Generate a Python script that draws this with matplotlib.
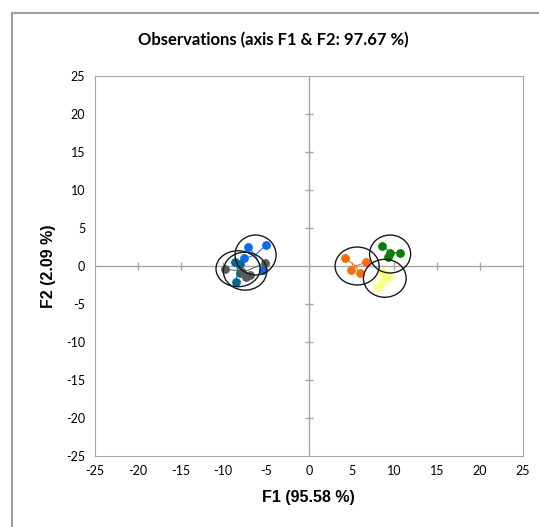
import matplotlib
matplotlib.use("Agg")
import matplotlib.pyplot as plt
from matplotlib.patches import Ellipse, Rectangle
import numpy as np

plt.rcParams["axes.unicode_minus"] = False

# Observation groups (F1, F2)
groups = ["blue", "teal", "gray", "orange", "green", "yellow"]
colors = {"blue": "#0a6cf0", "teal": "#006a94", "gray": "#5a5a5a",
          "orange": "#ff6a0a", "green": "#0a800a", "yellow": "#ffff80"}
f1 = {
    "blue":   [-7.15, -5.0, -7.55, -5.4],
    "teal":   [-8.63, -8.1, -8.05, -8.52],
    "gray":   [-9.8, -7.85, -6.9, -5.13, -7.4],
    "orange": [4.23, 6.69, 4.94, 5.99],
    "green":  [8.53, 9.5, 9.3, 10.67],
    "yellow": [8.53, 9.38, 8.53, 8.13, 9.0],
}
f2 = {
    "blue":   [2.54, 2.77, 1.01, -0.53],
    "teal":   [0.57, 0.3, -0.96, -2.15],
    "gray":   [-0.44, -0.75, -1.2, 0.36, -1.4],
    "orange": [1.01, 0.49, -0.53, -0.96],
    "green":  [2.67, 1.67, 1.15, 1.75],
    "yellow": [-0.75, -1.41, -2.07, -2.72, -1.0],
}
# confidence circles: center x, center y, width, height
ell_x = {"blue": -6.23, "teal": -8.28, "gray": -7.46, "orange": 5.64, "green": 9.5, "yellow": 8.88}
ell_y = {"blue": 1.45, "teal": -0.36, "gray": -0.68, "orange": 0.0, "green": 1.58, "yellow": -1.62}
ell_w = {"blue": 4.8, "teal": 5.15, "gray": 5.07, "orange": 5.15, "green": 4.8, "yellow": 5.0}
ell_h = {"blue": 5.27, "teal": 4.74, "gray": 5.0, "orange": 5.0, "green": 5.0, "yellow": 5.0}

ticks = [-25, -20, -15, -10, -5, 0, 5, 10, 15, 20, 25]
grey = "#a6a6a6"

fig = plt.figure(figsize=(5.39, 5.27), dpi=100)
ax = fig.add_axes([95 / 539, 1 - 455.7 / 527, 427.7 / 539, 379.4 / 527])

# outer chart area border
fig.patches.append(Rectangle((12 / 539, -0.1), 1.2, (527 - 13) / 527 + 0.1,
                             transform=fig.transFigure, fill=False,
                             edgecolor="#a0a0a0", linewidth=1.5))

ax.axhline(0, color=grey, lw=1, zorder=1)
ax.axvline(0, color=grey, lw=1, zorder=1)
inner = [t for t in ticks if t not in (-25, 0, 25)]
ax.plot(inner, np.zeros(len(inner)), "|", color=grey, ms=6, mew=1, zorder=1)
ax.plot(np.zeros(len(inner)), inner, "_", color=grey, ms=6, mew=1, zorder=1)

for g in groups:
    cx, cy = np.mean(f1[g]), np.mean(f2[g])
    for x, y in zip(f1[g], f2[g]):
        ax.plot([x, cx], [y, cy], color=colors[g], lw=0.7, zorder=2)
    ax.scatter(f1[g], f2[g], s=40, color=colors[g], zorder=3, linewidths=0)
    ax.add_patch(Ellipse((ell_x[g], ell_y[g]), ell_w[g], ell_h[g], fill=False,
                         edgecolor="#1a1a1a", lw=1, zorder=4))

ax.set_xlim(-25, 25)
ax.set_ylim(-25, 25)
ax.set_xticks(ticks)
ax.set_yticks(ticks)
ax.tick_params(length=0, labelsize=9, pad=7)
for lab in ax.get_xticklabels() + ax.get_yticklabels():
    lab.set_family("Lato")
for s in ax.spines.values():
    s.set_color(grey)

ax.set_xlabel("F1 (95.58 %)", fontsize=11.5, fontweight="bold", family="Liberation Sans", labelpad=9)
ax.set_ylabel("F2 (2.09 %)", fontsize=11.5, fontweight="bold", family="Liberation Sans", labelpad=7)
fig.text(273 / 539, 1 - 40 / 527, "Observations (axis F1 & F2: 97.67 %)", ha="center", va="center",
         fontsize=12, fontweight="bold", family="Lato")

fig.savefig("out.png", dpi=100)
